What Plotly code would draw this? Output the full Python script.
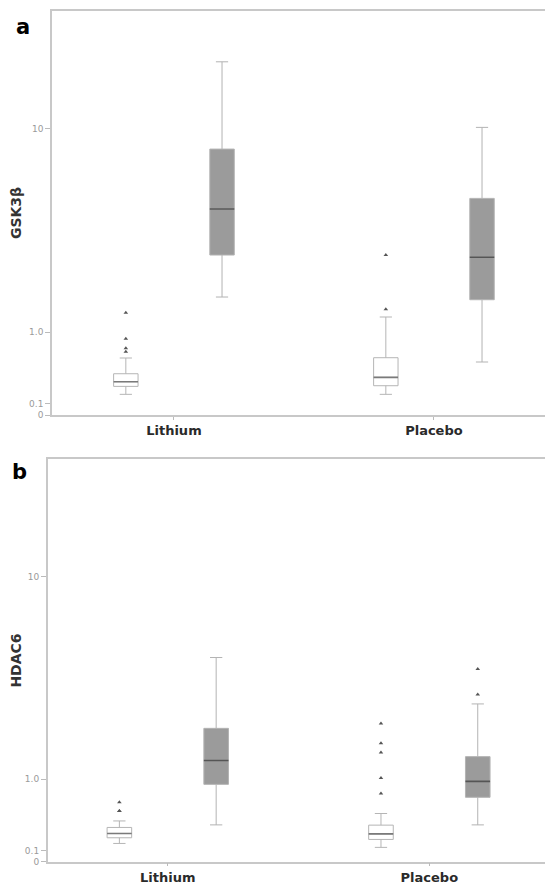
import numpy as np
import plotly.graph_objects as go
from plotly.subplots import make_subplots

# ---- data (original units) ----
categories = ["Lithium", "Placebo"]

# Panel a: GSK3β
a_white_q1 = [0.271, 0.278]
a_white_med = [0.322, 0.371]
a_white_q3 = [0.413, 0.616]
a_white_lo = [0.189, 0.189]
a_white_hi = [0.612, 1.273]
a_white_out = [[1.356, 0.896, 0.748, 0.699], [2.82, 1.424]]

a_gray_q1 = [2.82, 1.627]
a_gray_med = [4.62, 2.75]
a_gray_q3 = [8.28, 5.14]
a_gray_lo = [1.687, 0.559]
a_gray_hi = [18.28, 10.13]
a_gray_out = [[], []]

# Panel b: HDAC6
b_white_q1 = [0.223, 0.206]
b_white_med = [0.268, 0.264]
b_white_q3 = [0.334, 0.36]
b_white_lo = [0.166, 0.128]
b_white_hi = [0.409, 0.5]
b_white_out = [[0.648, 0.533, 0.533], [2.2, 1.71, 1.505, 1.02, 0.773]]

b_gray_q1 = [0.917, 0.719]
b_gray_med = [1.344, 0.966]
b_gray_q3 = [2.07, 1.42]
b_gray_lo = [0.363, 0.363]
b_gray_hi = [4.57, 2.77]
b_gray_out = [[], [4.06, 3.08]]

tick_values = [0, 0.1, 1.0, 10]
tick_labels = ["0", "0.1", "1.0", "10"]


def tf(v):
    return list(np.log10(np.asarray(v, dtype=float) + 1.0))


def tf_pts(groups):
    # plotly needs every row at least as long as the number of boxes; pad with gaps
    n = max(len(categories), max(len(g) for g in groups))
    rows = []
    for g in groups:
        r = [float(x) for x in tf(g)] if len(g) else []
        r = r + [None] * (n - len(r))
        rows.append(r)
    return rows


fig = make_subplots(rows=2, cols=1)


def add_box(row, q1, med, q3, lo, hi, out, fill, line, medcol, group):
    kw = {}
    if any(len(g) for g in out):
        kw = dict(y=tf_pts(out), boxpoints="all", jitter=0, pointpos=0)
    else:
        kw = dict(boxpoints=False)
    fig.add_trace(go.Box(
        x=categories, q1=tf(q1), median=tf(med), q3=tf(q3),
        lowerfence=tf(lo), upperfence=tf(hi),
        orientation="v", offsetgroup=group,
        fillcolor=fill, line=dict(color=line, width=1),
        marker=dict(symbol="triangle-up", size=4, color="#555555"),
        whiskerwidth=0.5, showlegend=False, hoverinfo="skip", **kw,
    ), row=row, col=1)
    # darker median line
    fig.add_trace(go.Box(
        x=categories, q1=tf(med), median=tf(med), q3=tf(med),
        lowerfence=tf(med), upperfence=tf(med),
        orientation="v", offsetgroup=group, boxpoints=False,
        fillcolor="rgba(0,0,0,0)", line=dict(color=medcol, width=1.6),
        whiskerwidth=0, showlegend=False, hoverinfo="skip",
    ), row=row, col=1)


add_box(1, a_white_q1, a_white_med, a_white_q3, a_white_lo, a_white_hi, a_white_out,
        "#ffffff", "#b5b5b5", "#7a7a7a", "w")
add_box(1, a_gray_q1, a_gray_med, a_gray_q3, a_gray_lo, a_gray_hi, a_gray_out,
        "#9b9b9b", "#b3b3b3", "#555555", "g")
add_box(2, b_white_q1, b_white_med, b_white_q3, b_white_lo, b_white_hi, b_white_out,
        "#ffffff", "#b5b5b5", "#7a7a7a", "w")
add_box(2, b_gray_q1, b_gray_med, b_gray_q3, b_gray_lo, b_gray_hi, b_gray_out,
        "#9b9b9b", "#b3b3b3", "#555555", "g")

# page body has an 8px default margin
OFF = 8
W, H = 553 - OFF, 887 - OFF


def xd(a, b):
    return [(a - OFF) / W, min(1.0, (b - OFF) / W)]


def yd(top, bot):
    return [(H - (bot - OFF)) / H, (H - (top - OFF)) / H]


yaxis_common = dict(
    range=[0, 1.47], tickmode="array", tickvals=tf(tick_values), ticktext=tick_labels,
    ticks="outside", ticklen=5, tickcolor="#bbbbbb", tickwidth=1,
    tickfont=dict(family="DejaVu Sans", size=9, color="#9a9a9a"),
    showgrid=False, zeroline=False, showline=True, linecolor="#c8c8c8", linewidth=1.5,
    mirror=True, automargin=False,
    title_font=dict(family="DejaVu Sans", size=14, color="#333333", weight="bold"),
    title_standoff=8,
)
xaxis_common = dict(
    type="category", ticks="outside", ticklen=3, tickcolor="#bbbbbb",
    tickfont=dict(family="DejaVu Sans", size=13, color="#2a2a2a", weight="bold"),
    showgrid=False, zeroline=False, showline=True, linecolor="#c8c8c8", linewidth=1.5,
    mirror=True, automargin=False,
)

fig.update_layout(
    width=W, height=H, margin=dict(l=0, r=0, t=0, b=0),
    paper_bgcolor="white", plot_bgcolor="white",
    boxmode="group", boxgap=0.26, boxgroupgap=0.746,
    xaxis=dict(xaxis_common, domain=xd(52, 553), range=[-0.469, 1.458]),
    xaxis2=dict(xaxis_common, domain=xd(47.7, 551), range=[-0.459, 1.465]),
    yaxis=dict(yaxis_common, domain=yd(11, 415), title_text="GSK3β"),
    yaxis2=dict(yaxis_common, domain=yd(459.3, 861.7), title_text="HDAC6"),
    annotations=[
        dict(text="a", x=6 / W, y=1 - 19 / H, xref="paper", yref="paper",
             xanchor="left", yanchor="middle", showarrow=False,
             font=dict(family="DejaVu Sans", size=21, color="black", weight="bold")),
        dict(text="b", x=2 / W, y=1 - 464 / H, xref="paper", yref="paper",
             xanchor="left", yanchor="middle", showarrow=False,
             font=dict(family="DejaVu Sans", size=21, color="black", weight="bold")),
    ],
)

fig.write_html("out.html")
